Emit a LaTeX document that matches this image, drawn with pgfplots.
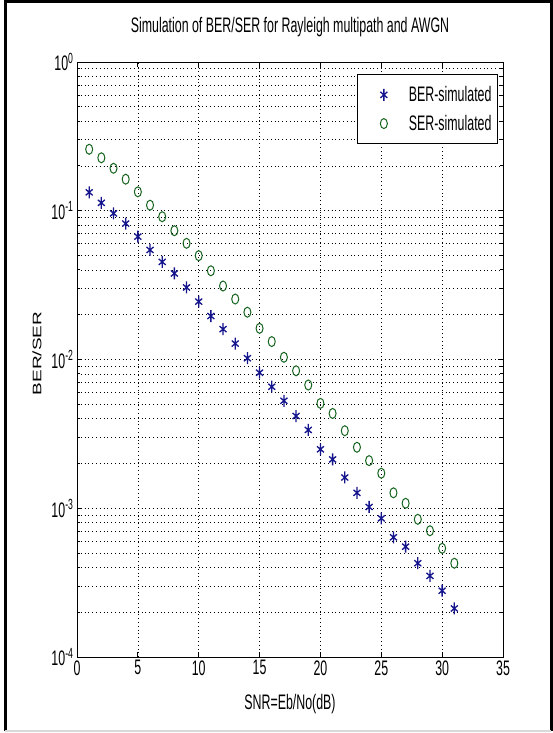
\documentclass[border=0pt]{standalone}
\usepackage{graphicx}
\usepackage{fontspec}
\setmainfont{Liberation Sans}[FakeStretch=0.59]
\newfontfamily\plainfont{Liberation Sans}[FakeStretch=1.0]
\usepackage{pgfplots}
\pgfplotsset{compat=1.18}
\definecolor{bercol}{RGB}{20,20,140}
\definecolor{sercol}{RGB}{20,100,30}

\pgfplotstableread{
x ber
1 0.133
2 0.113
3 0.096
4 0.082
5 0.067
6 0.0545
7 0.0453
8 0.0379
9 0.0305
10 0.0245
11 0.0196
12 0.0160
13 0.0128
14 0.0102
15 0.00815
16 0.00656
17 0.00528
18 0.00417
19 0.00336
20 0.00249
21 0.00213
22 0.00161
23 0.00127
24 0.00102
25 0.000855
26 0.000638
27 0.000552
28 0.000427
29 0.000351
30 0.000279
31 0.000212
}\bertable

\pgfplotstableread{
x ser
1 0.259
2 0.227
3 0.193
4 0.163
5 0.134
6 0.109
7 0.0912
8 0.0734
9 0.0604
10 0.0499
11 0.0395
12 0.0312
13 0.0255
14 0.0208
15 0.0162
16 0.0132
17 0.01035
18 0.0084
19 0.00674
20 0.00507
21 0.00434
22 0.00332
23 0.00257
24 0.00209
25 0.00172
26 0.00127
27 0.00108
28 0.000843
29 0.000706
30 0.000538
31 0.000427
}\sertable

\begin{document}
\begin{tikzpicture}
\useasboundingbox (0pt,0pt) rectangle (552pt,733pt);
\fill[white] (0pt,0pt) rectangle (552pt,733pt);
\draw[black, line width=3pt] (5pt,2pt) -- (5pt,731pt) -- (551pt,731pt) -- (551pt,2pt);
\draw[black!15, line width=1.5pt] (5pt,2pt) -- (551pt,2pt);
\begin{axis}[
  at={(77pt,76pt)}, anchor=south west,
  width=426pt, height=595pt, scale only axis,
  font=\fontsize{21}{24}\selectfont,
  /pgf/number format/assume math mode=true,
  xmin=0, xmax=35, ymode=log, ymin=1e-4, ymax=1,
  xtick={0,5,...,35},
  ytick={1e-4,1e-3,1e-2,1e-1,1},
  yticklabels={10\textsuperscript{-4},10\textsuperscript{-3},10\textsuperscript{-2},10\textsuperscript{-1},10\textsuperscript{0}},
  tick align=inside, tick pos=both,
  major tick length=5pt, minor tick length=3pt,
  xmajorgrids, ymajorgrids, yminorgrids,
  major grid style={black, line width=0.7pt, dash pattern=on 0.8pt off 3pt},
  minor grid style={black, line width=0.7pt, dash pattern=on 0.8pt off 3pt},
  axis line style={black, line width=1pt},
  every tick/.style={black, line width=1pt},
  title={Simulation of BER/SER for Rayleigh multipath and AWGN},
  title style={at={(axis description cs:0.5,1)}, anchor=center, yshift=29pt},
  xlabel={SNR=Eb/No(dB)},
  xlabel style={at={(axis description cs:0.5,0)}, anchor=center, yshift=-47pt},
  ylabel={\plainfont\fontsize{19}{21}\selectfont\scalebox{1}[0.65]{BER/SER}},
  ylabel style={at={(axis description cs:-0.0939,0.51)}, anchor=center},
  legend style={at={(1,1)}, anchor=north east, xshift=-5pt, yshift=-12pt,
    draw=black, fill=white, line width=1pt, row sep=8pt, inner xsep=4pt, inner ysep=10pt,
    font=\fontsize{21}{24}\selectfont},
  legend image code/.code={\path[draw=none] (0pt,0pt) -- (28pt,0pt); \draw[#1] plot coordinates {(22pt,0pt)};},
  legend cell align=left,
]
\addplot[only marks, mark=asterisk, color=bercol, mark size=6pt, line width=1.3pt, mark options={xscale=0.67}] table[x=x,y=ber] {\bertable};
\addlegendentry{\hspace{17pt}BER-simulated}
\addplot[only marks, mark=o, color=sercol, mark size=5pt, line width=1pt, mark options={xscale=0.7}] table[x=x,y=ser] {\sertable};
\addlegendentry{\hspace{17pt}SER-simulated}
\end{axis}
\end{tikzpicture}
\end{document}
